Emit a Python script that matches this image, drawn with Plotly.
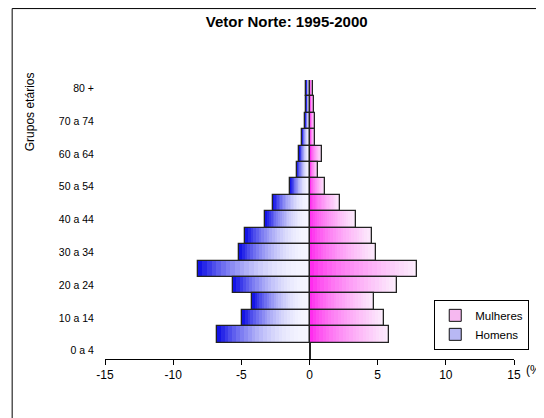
import plotly.graph_objects as go

# faixas etarias (de baixo para cima) e valores em %
grupos = ["0 a 4", "5 a 9", "10 a 14", "15 a 19", "20 a 24", "25 a 29", "30 a 34",
          "35 a 39", "40 a 44", "45 a 49", "50 a 54", "55 a 59", "60 a 64",
          "65 a 69", "70 a 74", "75 a 79", "80 +"]
homens = [None, 6.8, 4.95, 4.2, 5.6, 8.2, 5.2, 4.7, 3.25, 2.7, 1.4, 0.93, 0.75,
          0.56, 0.31, 0.24, 0.24]
mulheres = [None, 5.85, 5.5, 4.75, 6.4, 7.9, 4.9, 4.6, 3.4, 2.25, 1.17, 0.65, 0.93,
            0.4, 0.4, 0.34, 0.22]
rotulos = ["0 a 4", "10 a 14", "20 a 24", "30 a 34", "40 a 44", "50 a 54",
           "60 a 64", "70 a 74", "80 +"]
ticks_x = [-15, -10, -5, 0, 5, 10, 15]
ticks_txt = ["-15", "-10", "-5", "0", "5", "10", "15"]

N = 24  # passos do degrade


def mix(c1, c2, t):
    return "rgb(%d,%d,%d)" % tuple(round(a + (b - a) * t) for a, b in zip(c1, c2))


fig = go.Figure()
branco = (246, 246, 255)
azul = (20, 20, 230)
magenta = (255, 10, 235)
branco_rosa = (252, 236, 252)

# homens: azul na ponta, branco junto ao zero
for k in range(N, 0, -1):
    f = k / N
    xs = [None if v is None else -v * f for v in homens]
    fig.add_trace(go.Bar(x=xs, y=grupos, orientation="h", showlegend=False,
                         marker=dict(color=mix(branco, azul, f ** 2.2), line=dict(width=0)),
                         hoverinfo="skip"))
# mulheres: magenta junto ao zero, branco na ponta
for k in range(N, 0, -1):
    f = k / N
    xs = [None if v is None else v * f for v in mulheres]
    fig.add_trace(go.Bar(x=xs, y=grupos, orientation="h", showlegend=False,
                         marker=dict(color=mix(magenta, branco_rosa, f ** 0.6), line=dict(width=0)),
                         hoverinfo="skip"))

# contornos
fig.add_trace(go.Bar(x=[None if v is None else -v for v in homens], y=grupos, orientation="h",
                     showlegend=False, hoverinfo="skip",
                     marker=dict(color="rgba(0,0,0,0)", line=dict(color="#222", width=1.3))))
fig.add_trace(go.Bar(x=mulheres, y=grupos, orientation="h", showlegend=False, hoverinfo="skip",
                     marker=dict(color="rgba(0,0,0,0)", line=dict(color="#222", width=1.3))))

# entradas da legenda
fig.add_trace(go.Bar(x=[None], y=[None], orientation="h", name="Mulheres", legendrank=1,
                     marker=dict(color="#f6b8f0", line=dict(color="#111", width=1))))
fig.add_trace(go.Bar(x=[None], y=[None], orientation="h", name="Homens", legendrank=2,
                     marker=dict(color="#b8b8f4", line=dict(color="#111", width=1))))

# a pagina tem 8px de margem no body: figura um pouco menor e deslocada
fig.update_layout(
    width=536, height=410,
    margin=dict(l=97, r=30, t=72, b=59, autoexpand=False),
    paper_bgcolor="white", plot_bgcolor="white",
    barmode="overlay", bargap=0,
    font=dict(family="Arial, Liberation Sans, sans-serif", color="black", size=11),
    title=dict(text="<b>Vetor Norte: 1995-2000</b>", x=0.52, xanchor="center",
               y=0.966, yanchor="middle", font=dict(size=15)),
    xaxis=dict(range=[-15, 15], tickvals=ticks_x, ticktext=ticks_txt, showgrid=False,
               zeroline=True, zerolinecolor="#222", zerolinewidth=2,
               showline=True, linecolor="black", linewidth=1,
               ticks="outside", ticklen=5, tickcolor="black",
               tickfont=dict(size=12), automargin=False),
    yaxis=dict(type="category", categoryorder="array", categoryarray=grupos,
               range=[-0.5, 16.5], tickvals=rotulos, ticktext=rotulos,
               showgrid=False, zeroline=False, showline=False,
               ticks="outside", ticklen=8, tickcolor="rgba(0,0,0,0)",
               tickfont=dict(size=10.5), automargin=False),
    legend=dict(x=0.805, y=0.212, xanchor="left", yanchor="top",
                bordercolor="black", borderwidth=1, bgcolor="white",
                font=dict(size=11.5), itemwidth=30, tracegroupgap=0),
    annotations=[
        dict(text="Grupos etários", xref="paper", yref="paper",
             x=-0.183, y=0.885, textangle=-90, showarrow=False,
             xanchor="center", yanchor="middle", font=dict(size=12)),
        dict(text="(%)", xref="paper", yref="paper", x=1.025, y=-0.04,
             xanchor="left", yanchor="middle", showarrow=False, font=dict(size=12)),
    ],
    shapes=[dict(type="rect", xref="paper", yref="paper",
                 x0=-0.227, x1=1.2, y0=-0.5, y1=1.256,
                 line=dict(color="black", width=1), fillcolor="rgba(0,0,0,0)")],
)

fig.write_html("out.html")
